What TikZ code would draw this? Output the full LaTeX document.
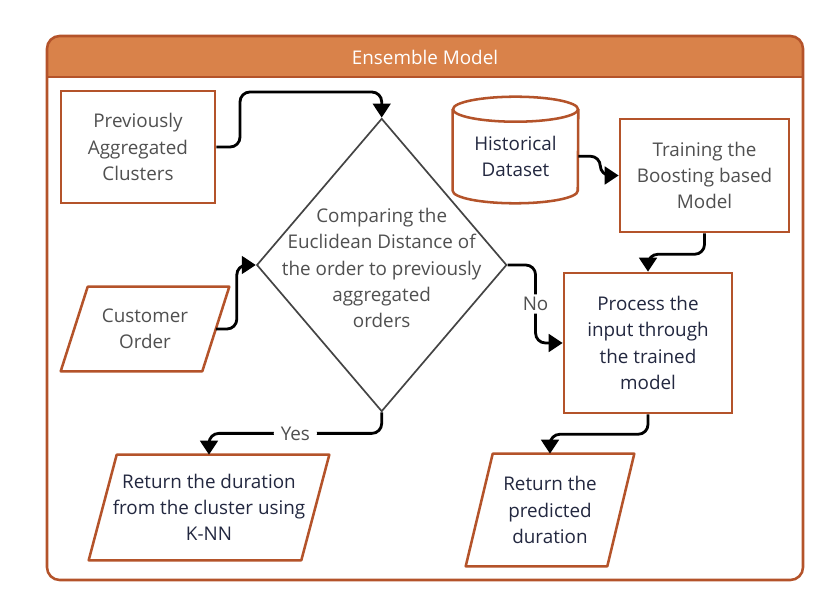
\documentclass[tikz,border=0pt]{standalone}
\usepackage{fontspec}
\setmainfont{Open Sans}
\usetikzlibrary{arrows.meta,positioning,calc,shapes.geometric}
\definecolor{rust}{HTML}{B4532A}
\definecolor{hdrorange}{HTML}{D9824A}
\definecolor{greytext}{HTML}{505050}
\definecolor{navytext}{HTML}{232840}
\definecolor{diagline}{HTML}{444444}

\begin{document}
\begin{tikzpicture}[x=0.025cm,y=-0.025cm,
  every node/.style={font=\fontsize{13.4}{18.6}\selectfont,align=center},
  box/.style={draw=rust,line width=1.8pt,inner sep=0pt},
  slot/.style={inner sep=0pt},
  rustline/.style={draw=rust,line width=1.8pt,line join=round},
  flow/.style={line width=2pt,rounded corners=7pt,-{Triangle[length=3.5mm,width=4.4mm]}},
  lbl/.style={fill=white,inner xsep=5pt,inner ysep=2pt,text=greytext}]
\useasboundingbox (0,0) rectangle (836,602);
% outer frame with header band
\fill[white,rounded corners=9pt] (47,36) rectangle (803,580);
\fill[hdrorange] (47,77) {[rounded corners=9pt] -- (47,36) -- (803,36)} -- (803,77) -- cycle;
\draw[rust,line width=1.8pt] (47,77) -- (803,77);
\draw[rust,line width=1.8pt,rounded corners=9pt] (47,36) rectangle (803,580);
\node[text=white] (hdr) at (425,57) {Ensemble Model};

% boxes
\node[box,text=greytext,minimum width=3.85cm,minimum height=2.8cm] (pac) at (138,147)
  {Previously\\Aggregated\\Clusters};
\node[box,text=greytext,minimum width=4.225cm,minimum height=2.825cm] (trn) at (704.5,175.5)
  {Training the\\Boosting based\\Model};
\node[box,text=navytext,minimum width=4.2cm,minimum height=3.5cm] (prc) at (648,343)
  {Process the\\input through\\the trained\\model};

% input / output parallelograms
\node[slot,text=greytext,minimum width=4.2cm,minimum height=2.1cm] (co) at (145,329) {Customer\\Order};
\draw[rustline] ($(co.north west)+(27,0)$) -- (co.north east)
  -- ($(co.south east)+(-27,0)$) -- (co.south west) -- cycle;
\node[slot,text=navytext,minimum width=6cm,minimum height=2.625cm] (knn) at (209,507.5)
  {Return the duration\\from the cluster using\\K-NN};
\draw[rustline] ($(knn.north west)+(28,0)$) -- (knn.north east)
  -- ($(knn.south east)+(-28,0)$) -- (knn.south west) -- cycle;
\node[slot,text=navytext,minimum width=4.2cm,minimum height=2.8cm] (rpd) at (550,510)
  {Return the\\predicted\\duration};
\draw[rustline] ($(rpd.north west)+(27,0)$) -- (rpd.north east)
  -- ($(rpd.south east)+(-27,0)$) -- (rpd.south west) -- cycle;

% cylinder
\node[slot,text=navytext,minimum width=3.125cm,minimum height=2.3375cm] (hd) at (515.5,156.25)
  {Historical\\Dataset};
\draw[rustline] (hd.north) ellipse [x radius=1.5625cm,y radius=0.3125cm];
\draw[rustline] (hd.north west) -- ($(hd.south west)+(0,-12.5)$)
  arc[start angle=180,end angle=360,x radius=1.5625cm,y radius=0.3125cm] -- (hd.north east);

% decision
\node[diamond,draw=diagline,line width=1.2pt,inner sep=0pt,minimum width=6.25cm,minimum height=7.325cm] (cmp) at (381.7,265) {};
\node[text=greytext] (cmptxt) at (381.7,268)
  {Comparing the\\Euclidean Distance of\\the order to previously\\aggregated\\orders};

% connectors
\coordinate (pacbend) at (240,92);
\draw[flow] (pac.east) -| (pacbend) -| (cmp.north);
\coordinate (coout) at ($(co.east)+(-13.5,0)$);
\draw[flow] (coout) -- ++(21,0) |- (cmp.west);
\draw[flow] (cmp.south) -- ++(0,21) -| node[lbl,pos=0.25] (yes) {Yes} (knn.north);
\draw[flow] (cmp.east) -- ++(28,0) |- node[lbl,pos=0.25] (no) {No} (prc.west);
\draw[flow] (hd.east) -- ++(22,0) |- (trn.west);
\draw[flow] (trn.south) -- ++(0,21) -| (prc.north);
\draw[flow] (prc.south) -- ++(0,20) -| (rpd.north);
\end{tikzpicture}
\end{document}
